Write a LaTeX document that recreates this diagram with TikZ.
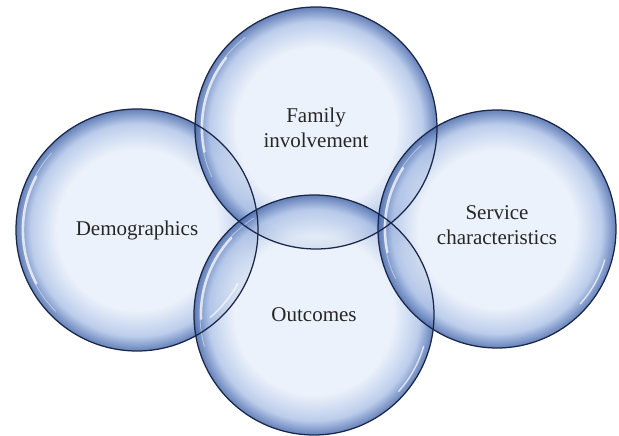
\documentclass[tikz,border=0pt]{standalone}
\usepackage{fontspec}
\setmainfont{Liberation Serif}
\usetikzlibrary{positioning}
\definecolor{bubin}{HTML}{E9F0FA}
\definecolor{bubmid}{HTML}{B0C4E8}
\definecolor{bubedge}{HTML}{4A6BAD}
\definecolor{bubline}{HTML}{1A2647}
\pgfdeclareradialshading{bubshade}{\pgfpoint{0bp}{0bp}}{%
  color(0bp)=(bubin); color(16.5bp)=(bubin); color(22bp)=(bubmid);
  color(25bp)=(bubedge); color(50bp)=(bubedge)}
\tikzset{
  bubble/.style={circle, inner sep=0pt, minimum size=#1, shading=bubshade, fill opacity=0.85},
  rim/.style={draw=bubline, line width=1.25pt},
  shine/.style={white, line cap=round, opacity=0.7},
  faint/.style={white, line cap=round, opacity=0.45, line width=0.8pt},
  label/.style={font=\fontsize{21}{25}\selectfont, align=center, text=black!85}
}
\begin{document}
\begin{tikzpicture}[x=1pt, y=1pt]
  \useasboundingbox (0,0) rectangle (619,436);
  % the four bubbles
  \node[bubble=242pt] (demo) at (137,206) {};
  \node[bubble=242pt] (family) at (316,308) {};
  \node[bubble=240pt] (outcome) at (314,121) {};
  \node[bubble=238pt] (service) at (497,207) {};

  % glossy highlights
  \draw[shine, line width=2.4pt] (demo.center) ++(152:114) arc[start angle=152, end angle=208, radius=114];
  \draw[faint] (demo.center) ++(138:115) arc[start angle=138, end angle=225, radius=115];
  \draw[shine, line width=2.4pt] (family.center) ++(142:114) arc[start angle=142, end angle=192, radius=114];
  \draw[faint] (family.center) ++(128:115) arc[start angle=128, end angle=205, radius=115];
  \draw[shine, line width=2.4pt] (outcome.center) ++(137:113) arc[start angle=137, end angle=182, radius=113];
  \draw[faint] (outcome.center) ++(122:114) arc[start angle=122, end angle=196, radius=114];
  \draw[shine, line width=2.4pt] (service.center) ++(147:112) arc[start angle=147, end angle=192, radius=112];
  \draw[faint] (service.center) ++(132:113) arc[start angle=132, end angle=206, radius=113];
  \draw[shine, line width=1.4pt] (outcome.center) ++(-42:114) arc[start angle=-42, end angle=-16, radius=114];
  \draw[shine, line width=1.4pt] (service.center) ++(-42:112) arc[start angle=-42, end angle=-16, radius=112];
  \draw[shine, line width=1.4pt] (demo.center) ++(-50:114) arc[start angle=-50, end angle=-28, radius=114];

  % outlines
  \draw[rim] (demo.center) circle[radius=121];
  \draw[rim] (family.center) circle[radius=121];
  \draw[rim] (outcome.center) circle[radius=120];
  \draw[rim] (service.center) circle[radius=119];

  % labels
  \node[label] (demotext) at (demo) {Demographics};
  \node[label] (familytext) at (family) {Family\\involvement};
  \node[label] (outcometext) at (outcome) {Outcomes};
  \node[label] (servicetext) at ([yshift=4pt]service.center) {Service\\characteristics};
\end{tikzpicture}
\end{document}
